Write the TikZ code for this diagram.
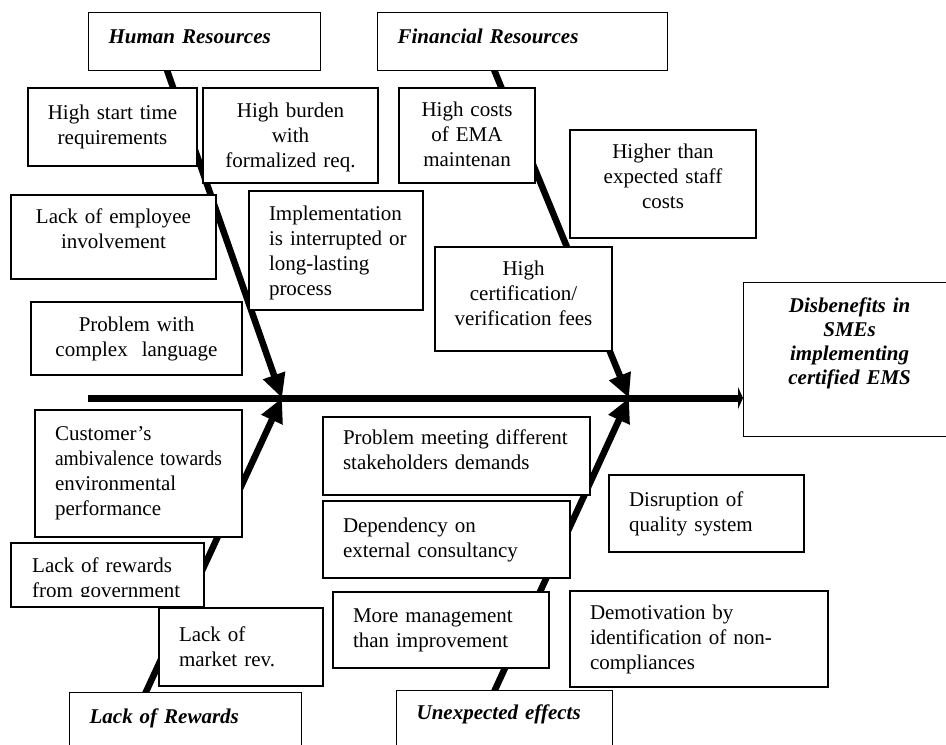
\documentclass[tikz,border=0pt]{standalone}
\usepackage{fontspec}
\setmainfont{Liberation Serif}
\usetikzlibrary{arrows.meta,calc}
\pgfdeclarelayer{bg}
\pgfsetlayers{bg,main}
\begin{document}
\begin{tikzpicture}[x=1pt,y=-1pt,
  box/.style={draw, fill=white, line width=1.2pt, inner sep=0pt, font=\fontsize{21}{25}\selectfont},
  cbox/.style={box, align=center},
  lbox/.style={box, align=left, inner xsep=20pt},
  head/.style={box, align=left, inner xsep=20pt, anchor=north west, font=\fontsize{21}{25}\selectfont\bfseries\itshape},
  bone/.style={line width=6.5pt, -{Triangle[length=24pt,width=22pt]}},
  spine/.style={line width=7pt, -{Triangle[length=5pt,width=22pt]}},
]
\useasboundingbox (0,0) rectangle (946,745);
\clip (0,0) rectangle (946,745);

% category headers
\node[head, text width=192pt, minimum width=232pt, text height=31pt, text depth=27pt] (hr) at (88,12) {Human Resources};
\node[head, text width=250pt, minimum width=290pt, text height=31pt, text depth=27pt] (fin) at (377,12) {Financial Resources};
\node[head, text width=192pt, minimum width=232pt, text height=31pt, text depth=70pt] (lor) at (69,692) {Lack of Rewards};
\node[head, text width=176pt, minimum width=216pt, text height=29pt, text depth=70pt] (ue) at (396,690) {Unexpected effects};

% effect
\node[box, anchor=north west, align=center, inner xsep=4pt, text width=204pt, text height=30pt, text depth=124pt,
      font=\fontsize{21}{24}\selectfont\bfseries\itshape] (eff) at (743,282)
      {Disbenefits in\\SMEs\\implementing\\certified EMS};

% centred cause boxes
\node[cbox, minimum width=169pt, minimum height=78pt, text width=160pt] (hst) at (112.5,127) {High start time\\requirements};
\node[cbox, minimum width=175pt, text height=29pt, text depth=66pt, text width=166pt] (hbd) at (290.5,135.5) {High burden\\with\\formalized req.};
\node[cbox, minimum width=136pt, text height=28pt, text depth=67pt, text width=128pt] (hco) at (467,135.5) {High costs\\of EMA\\maintenan};
\node[cbox, minimum width=186pt, text height=28pt, text depth=80pt, text width=176pt] (hts) at (663,184) {Higher than\\expected staff\\costs};
\node[cbox, minimum width=205pt, text height=28pt, text depth=56pt, text width=196pt] (lei) at (113.5,237) {Lack of employee\\involvement};
\node[cbox, minimum width=177pt, text height=28pt, text depth=76pt, text width=168pt] (hcf) at (523.5,299) {High\\certification/\\verification fees};
\node[cbox, minimum width=211pt, minimum height=73pt, text width=202pt] (pcl) at (136.5,338.5) {Problem with\\\mbox{complex~~language}};

% left-aligned cause boxes
\node[lbox, minimum width=174pt, text height=29pt, text depth=90pt, text width=134pt] (imp) at (336,250.5)
  {Implementation\\\makebox[134pt][s]{is interrupted or}\\long-lasting\\process};
\node[lbox, minimum width=207pt, minimum height=127pt, text width=167pt] (cus) at (138.5,473.5)
  {Customer’s\\\scalebox{0.93}[1]{ambivalence towards}\\environmental\\performance};
\node[lbox, minimum width=267pt, text height=27pt, text depth=51pt, text width=227pt] (pmd) at (456.5,456)
  {\mbox{Problem meeting different}\\\mbox{stakeholders demands}};
\node[lbox, minimum width=195pt, minimum height=77pt, text width=155pt] (dis) at (706.5,513.5)
  {\mbox{Disruption of}\\\mbox{quality system}};
\node[lbox, minimum width=247pt, minimum height=77pt, text width=207pt] (dep) at (446.5,539.5)
  {\mbox{Dependency on}\\\mbox{external consultancy}};
\node[lbox, minimum width=216pt, minimum height=76pt, text width=176pt] (mmt) at (441,630)
  {\mbox{More management}\\\mbox{than improvement}};
\node[lbox, minimum width=258pt, text height=28pt, text depth=68pt, text width=218pt] (dem) at (699,639)
  {\mbox{Demotivation by}\\\mbox{identification of non-}\\compliances};
\node[lbox, minimum width=164pt, minimum height=78pt, text width=124pt] (lmr) at (241,647)
  {\mbox{Lack of}\\\mbox{market rev.}};
\node[box, minimum width=193pt, minimum height=64pt] (lrg) at (107.5,575) {};
\begin{scope}
  \clip (11,543) rectangle (204,596.5);
  \node[anchor=base west, inner sep=0pt, align=left, text width=170pt, font=\fontsize{21}{25}\selectfont] (lrgt) at (32,572)
    {\mbox{Lack of rewards}\\\mbox{from government}};
\end{scope}

% fishbone lines
\coordinate (j1) at (282,398);
\coordinate (j2) at (629,398);
\coordinate (start) at (88,398);
\begin{pgfonlayer}{bg}
  \draw[spine] (start) -- (start -| eff.west);
  \draw[bone] ($(hr.south)+(-39,-5)$) -- (j1);
  \draw[bone] ($(fin.south)+(-30,-5)$) -- (j2);
  \draw[bone] ($(lor.north)+(-42,5)$) -- (j1);
  \draw[bone] ($(ue.north)+(-12,5)$) -- (j2);
\end{pgfonlayer}
\end{tikzpicture}
\end{document}
